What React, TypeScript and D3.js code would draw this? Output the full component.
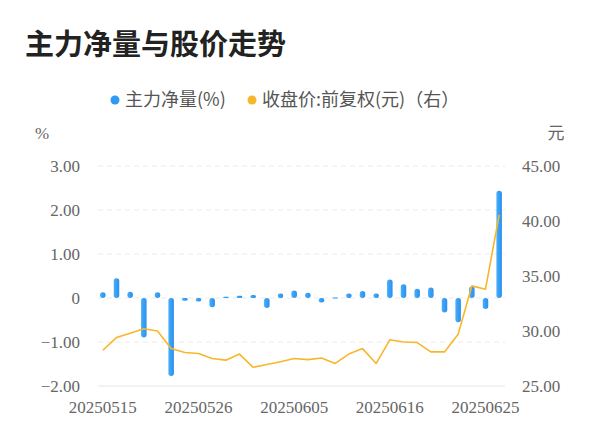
import React from "react";
import * as d3 from "d3";

const dates = [
  "20250515","20250516","20250519","20250520","20250521","20250522","20250523",
  "20250526","20250527","20250528","20250529","20250530","20250603","20250604",
  "20250605","20250606","20250609","20250610","20250611","20250612","20250613",
  "20250616","20250617","20250618","20250619","20250620","20250623","20250624",
  "20250625","20250626",
];
const netFlow = [
  0.13, 0.45, 0.14, -0.9, 0.13, -1.77, -0.06, -0.08, -0.21, 0.03,
  0.05, 0.07, -0.23, 0.1, 0.17, 0.12, -0.1, 0.01, 0.1, 0.16,
  0.1, 0.42, 0.31, 0.21, 0.24, -0.33, -0.55, 0.26, -0.25, 2.44,
];
const closePrice = [
  28.25, 29.4, 29.8, 30.2, 30.0, 28.4, 28.05, 27.95, 27.5, 27.35,
  27.9, 26.7, 26.95, 27.2, 27.5, 27.4, 27.55, 27.05, 27.9, 28.4,
  27.05, 29.2, 29.0, 28.95, 28.1, 28.1, 29.7, 34.1, 33.8, 40.55,
];
const leftTicks = [3, 2, 1, 0, -1, -2];
const rightTicks = [45, 40, 35, 30, 25];
const labelEvery = 7;

const title = "主力净量与股价走势";
const legendBar = "主力净量(%)";
const legendLine = "收盘价:前复权(元)（右）";

export default function App() {
  const W = 600, H = 446;
  const x = d3.scaleBand<string>().domain(dates).range([96, 506]);
  const yL = d3.scaleLinear().domain([-2, 3]).range([386, 166]);
  const yR = d3.scaleLinear().domain([25, 45]).range([386, 166]);
  const cx = (d: string) => (x(d) as number) + x.bandwidth() / 2;
  const line = d3
    .line<number>()
    .x((_, i) => cx(dates[i]))
    .y((v) => yR(v));
  const barW = 5.5;
  const tickFont = "'Liberation Serif', 'Noto Sans CJK SC', serif";
  const sansFont = "'Noto Sans CJK SC', 'Noto Sans', sans-serif";

  return (
    <svg
      width={W}
      height={H}
      style={{ position: "absolute", left: 0, top: 0, background: "#fff" }}
    >
      <defs>
        <linearGradient id="barGrad" x1="0" y1="0" x2="1" y2="0">
          <stop offset="0" stopColor="#45aef7" />
          <stop offset="1" stopColor="#2b8ef0" />
        </linearGradient>
      </defs>
      <text
        x={25}
        y={55}
        fontFamily={sansFont}
        fontWeight="bold"
        fontSize={29}
        fill="#222"
      >
        {title}
      </text>

      {/* legend */}
      <circle cx={115} cy={100} r={4.5} fill="#2f9af2" />
      <text x={125} y={106} fontFamily={sansFont} fontSize={18} fill="#555">
        {legendBar}
      </text>
      <circle cx={252} cy={100} r={4.5} fill="#f8b62a" />
      <text x={262} y={106} fontFamily={sansFont} fontSize={18} fill="#555">
        {legendLine}
      </text>

      {/* unit labels */}
      <text x={42} y={139} fontFamily={tickFont} fontSize={17} fill="#666" textAnchor="middle">
        %
      </text>
      <text x={556} y={139} fontFamily={sansFont} fontSize={17} fill="#666" textAnchor="middle">
        元
      </text>

      {/* grid */}
      {leftTicks.map((t) => (
        <line
          key={"g" + t}
          x1={98}
          x2={505}
          y1={yL(t)}
          y2={yL(t)}
          stroke={t === -2 ? "#e6e6e6" : "#ebebeb"}
          strokeWidth={1}
          strokeDasharray={t === -2 ? undefined : "5,4"}
        />
      ))}

      {/* left ticks */}
      {leftTicks.map((t) => (
        <text
          key={"l" + t}
          x={80}
          y={yL(t) + 6}
          textAnchor="end"
          fontFamily={tickFont}
          fontSize={17}
          fill="#666"
        >
          {t === 0 ? "0" : d3.format(".2f")(t)}
        </text>
      ))}
      {/* right ticks */}
      {rightTicks.map((t) => (
        <text
          key={"r" + t}
          x={522}
          y={yR(t) + 6}
          textAnchor="start"
          fontFamily={tickFont}
          fontSize={17}
          fill="#666"
        >
          {d3.format(".2f")(t)}
        </text>
      ))}

      {/* x labels */}
      {dates.map((d, i) =>
        i % labelEvery === 0 ? (
          <text
            key={"x" + d}
            x={cx(d)}
            y={413}
            textAnchor="middle"
            fontFamily={tickFont}
            fontSize={17}
            fill="#666"
          >
            {d}
          </text>
        ) : null
      )}

      {/* bars */}
      {netFlow.map((v, i) => {
        const y0 = yL(0);
        const y1 = yL(v);
        const top = Math.min(y0, y1);
        const h = Math.max(Math.abs(y1 - y0), 1);
        const r = Math.min(barW / 2, h / 2);
        return (
          <rect
            key={"b" + i}
            x={cx(dates[i]) - barW / 2}
            y={top}
            width={barW}
            height={h}
            rx={r}
            ry={r}
            fill="url(#barGrad)"
          />
        );
      })}

      {/* line */}
      <path
        d={line(closePrice) || ""}
        fill="none"
        stroke="#f8b62a"
        strokeWidth={1.6}
        strokeLinejoin="round"
      />
    </svg>
  );
}
